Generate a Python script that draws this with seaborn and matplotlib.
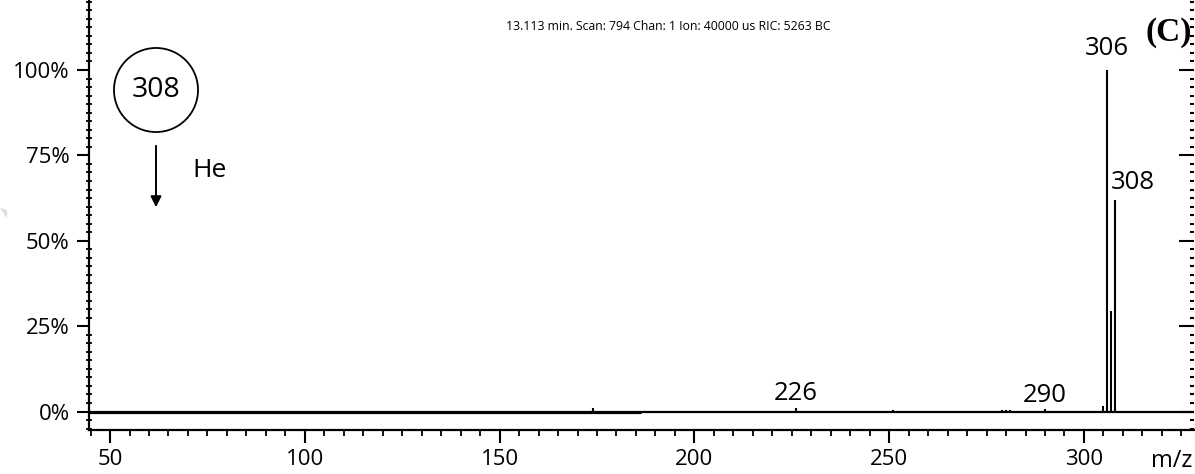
import numpy as np
import pandas as pd
import matplotlib
matplotlib.use("Agg")
import matplotlib.pyplot as plt
from matplotlib.ticker import MultipleLocator, FuncFormatter
from matplotlib.patches import Polygon
import seaborn as sns

# stick spectrum (m/z, relative abundance %)
mz = [174, 226, 251, 279, 280, 281, 290, 305, 306, 307, 308, 315]
abund = [1.0, 1.0, 0.4, 0.4, 0.6, 0.4, 0.7, 1.6, 100.0, 29.5, 62.0, 0.3]

# baseline trace of the scan
base_x1 = [44.6, 186.0]
base_x2 = [186.0, 328.2]
base_y = [0.0, 0.0]

# labelled peaks
lab_mz = [306, 308, 226, 290]
lab_txt = ["306", "308", "226", "290"]

x_ticks = [50, 100, 150, 200, 250, 300]
y_ticks = [0, 25, 50, 75, 100]

scan_info = "13.113 min. Scan: 794 Chan: 1 Ion: 40000 us RIC: 5263 BC"

sns.set_style("ticks")
plt.rcParams["font.family"] = ["Open Sans", "DejaVu Sans"]
plt.rcParams["text.color"] = "black"
plt.rcParams["xtick.color"] = "black"
plt.rcParams["ytick.color"] = "black"
plt.rcParams["axes.labelcolor"] = "black"

fig = plt.figure(figsize=(11.95, 4.74), dpi=100)
ax = fig.add_axes([89 / 1195, 44 / 474, 1 - 89 / 1195 - 0.001, 1 - 44 / 474])

df = pd.DataFrame({"mz": mz, "abund": abund})
ax.vlines(df["mz"], 0, df["abund"], color="black", lw=1.5)

sns.lineplot(x=base_x1, y=base_y, ax=ax, color="black", lw=2.3)
sns.lineplot(x=base_x2, y=base_y, ax=ax, color="black", lw=1.6)

ax.set_xlim(44.6, 328.2)
ax.set_ylim(-5.4, 120.5)

ax.xaxis.set_minor_locator(MultipleLocator(5))
ax.yaxis.set_minor_locator(MultipleLocator(2.5))
ax.set_xticks(x_ticks)
ax.set_yticks(y_ticks)
ax.yaxis.set_major_formatter(FuncFormatter(lambda v, p: f"{int(v)}%"))

ax.spines["top"].set_visible(False)
ax.spines["right"].set_visible(False)
for s in ["left", "bottom"]:
    ax.spines[s].set_linewidth(1.6)
    ax.spines[s].set_color("black")

ax.tick_params(axis="both", which="major", labelsize=16, length=9, width=1.5,
               direction="out", pad=5)
ax.tick_params(axis="y", which="minor", length=5, width=1.3, direction="inout")
ax.tick_params(axis="x", which="minor", length=4, width=1.3, direction="out")

# right side ticks pointing inward
ax2 = ax.twinx()
ax2.set_ylim(ax.get_ylim())
ax2.set_yticks(y_ticks)
ax2.yaxis.set_minor_locator(MultipleLocator(2.5))
ax2.tick_params(axis="y", which="major", length=11, width=1.5, direction="in", labelright=False)
ax2.tick_params(axis="y", which="minor", length=3, width=1.5, direction="in")
for s in ax2.spines.values():
    s.set_visible(False)

# peak labels
ax.text(306, 102.5, "306", ha="center", va="bottom", fontsize=18.5)
ax.text(307.0, 63.5, "308", ha="left", va="bottom", fontsize=18.5)
ax.text(226, 1.5, "226", ha="center", va="bottom", fontsize=18.5)
ax.text(290, 1.0, "290", ha="center", va="bottom", fontsize=18.5)

fig.text(668 / 1195, 1 - 27 / 474, scan_info, ha="center", va="center", fontsize=8.8)
fig.text(1169 / 1195, 1 - 32 / 474, "(C)", ha="center", va="center", fontsize=24,
         fontweight="bold", family="Liberation Serif")
fig.text(1192 / 1195, 1 / 474, "m/z", ha="right", va="bottom", fontsize=17)

# reaction scheme: precursor -> He collision
fig.text(156 / 1195, 1 - 90 / 474, "308", ha="center", va="center", fontsize=20.5,
         bbox=dict(boxstyle="circle,pad=0.62", fc="white", ec="black", lw=1.3))
ax.annotate("", xy=(156 / 1195, 1 - 210 / 474), xytext=(156 / 1195, 1 - 143 / 474),
            xycoords=fig.transFigure, textcoords=fig.transFigure,
            arrowprops=dict(arrowstyle="-|>", color="black", lw=1.4, mutation_scale=16))
fig.text(192 / 1195, 1 - 171 / 474, "He", ha="left", va="center", fontsize=19)

# faint grey fragment at left edge
fig.patches.append(Polygon([[0, 1 - 208 / 474], [7 / 1195, 1 - 210 / 474], [7 / 1195, 1 - 218 / 474]],
                           closed=True, transform=fig.transFigure, fc="#dcdcdc", ec="none"))

fig.savefig("out.png", dpi=100)
